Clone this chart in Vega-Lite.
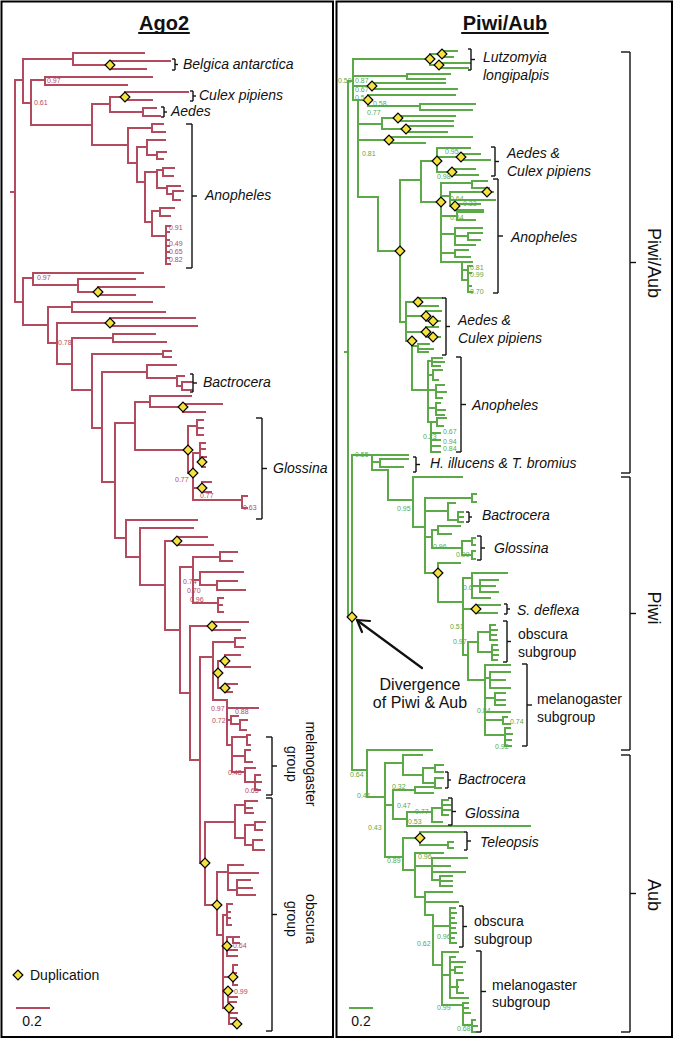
{
"$schema":"https://vega.github.io/schema/vega-lite/v6.json",
"width":674,"height":1039,"padding":0,
"autosize":{"type":"fit","contains":"padding"},
"background":"white",
"config":{"view":{"stroke":null},"text":{"font":"Liberation Sans"}},
"datasets":{
"fr":[{"x":1.5,"x2":333,"y":1.5,"y2":1037},{"x":336.5,"x2":672,"y":1.5,"y2":1037}],
"h":[
{"c":"A","y":192,"a":11,"b":15},{"c":"A","y":80,"a":15,"b":23},{"c":"A","y":59,"a":23,"b":73},{"c":"A","y":53,"a":73,"b":144},{"c":"A","y":65,"a":73,"b":110},{"c":"A","y":61,"a":110,"b":170},{"c":"A","y":69,"a":110,"b":146},{"c":"A","y":103,"a":23,"b":31},{"c":"A","y":80,"a":31,"b":45},{"c":"A","y":77,"a":45,"b":152},{"c":"A","y":85,"a":45,"b":127},{"c":"A","y":125,"a":31,"b":92},{"c":"A","y":104,"a":92,"b":110},{"c":"A","y":97,"a":110,"b":125},{"c":"A","y":92,"a":125,"b":188},{"c":"A","y":100,"a":125,"b":152},{"c":"A","y":112,"a":110,"b":143},{"c":"A","y":108,"a":143,"b":156},{"c":"A","y":116,"a":143,"b":160},{"c":"A","y":145,"a":92,"b":128},{"c":"A","y":128,"a":128,"b":152},{"c":"A","y":124,"a":152,"b":163},{"c":"A","y":132,"a":152,"b":165},{"c":"A","y":163,"a":128,"b":137},{"c":"A","y":147,"a":137,"b":147},{"c":"A","y":140,"a":147,"b":165},{"c":"A","y":155,"a":147,"b":157},{"c":"A","y":152,"a":157,"b":166},{"c":"A","y":159,"a":157,"b":163},{"c":"A","y":182,"a":137,"b":145},{"c":"A","y":172,"a":145,"b":157},{"c":"A","y":170,"a":157,"b":163},{"c":"A","y":168,"a":163,"b":174},{"c":"A","y":176,"a":163,"b":173},{"c":"A","y":188,"a":157,"b":167},{"c":"A","y":186,"a":167,"b":180},{"c":"A","y":194,"a":167,"b":173},{"c":"A","y":191,"a":173,"b":183},{"c":"A","y":200,"a":173,"b":180},{"c":"A","y":222,"a":145,"b":152},{"c":"A","y":211,"a":152,"b":160},{"c":"A","y":208,"a":160,"b":174},{"c":"A","y":216,"a":160,"b":170},{"c":"A","y":236,"a":152,"b":166},{"c":"A","y":226,"a":166,"b":170},{"c":"A","y":232,"a":166,"b":169},{"c":"A","y":240,"a":166,"b":169},{"c":"A","y":246,"a":166,"b":169},{"c":"A","y":252,"a":166,"b":169},{"c":"A","y":258,"a":166,"b":169},{"c":"A","y":264,"a":166,"b":170},
{"c":"A","y":302,"a":15,"b":23},{"c":"A","y":278,"a":23,"b":33},{"c":"A","y":273,"a":33,"b":143},{"c":"A","y":285,"a":33,"b":78},{"c":"A","y":279,"a":78,"b":135},{"c":"A","y":292,"a":78,"b":98},{"c":"A","y":287,"a":98,"b":164},{"c":"A","y":295,"a":98,"b":135},{"c":"A","y":325,"a":23,"b":48},{"c":"A","y":307,"a":48,"b":72},{"c":"A","y":302,"a":72,"b":152},{"c":"A","y":312,"a":72,"b":165},{"c":"A","y":343,"a":48,"b":57},{"c":"A","y":323,"a":57,"b":110},{"c":"A","y":318,"a":110,"b":195},{"c":"A","y":326,"a":110,"b":197},{"c":"A","y":364,"a":57,"b":72},{"c":"A","y":338,"a":72,"b":113},{"c":"A","y":334,"a":113,"b":155},{"c":"A","y":342,"a":113,"b":166},{"c":"A","y":390,"a":72,"b":92},{"c":"A","y":354,"a":92,"b":163},{"c":"A","y":351,"a":163,"b":171},{"c":"A","y":357,"a":163,"b":171},{"c":"A","y":428,"a":92,"b":102},{"c":"A","y":372,"a":102,"b":147},{"c":"A","y":365,"a":147,"b":176},{"c":"A","y":378,"a":147,"b":177},{"c":"A","y":376,"a":177,"b":184},{"c":"A","y":386,"a":177,"b":182},{"c":"A","y":382,"a":182,"b":192},{"c":"A","y":390,"a":182,"b":192},{"c":"A","y":482,"a":102,"b":115},{"c":"A","y":423,"a":115,"b":135},{"c":"A","y":402,"a":135,"b":150},{"c":"A","y":396,"a":150,"b":191},{"c":"A","y":407,"a":150,"b":183},{"c":"A","y":404,"a":183,"b":222},{"c":"A","y":412,"a":183,"b":205},{"c":"A","y":450,"a":135,"b":188},{"c":"A","y":426,"a":188,"b":197},{"c":"A","y":420,"a":197,"b":203},{"c":"A","y":428,"a":197,"b":203},{"c":"A","y":435,"a":197,"b":203},{"c":"A","y":473,"a":188,"b":193},{"c":"A","y":453,"a":193,"b":200},{"c":"A","y":443,"a":200,"b":205},{"c":"A","y":449,"a":200,"b":205},{"c":"A","y":462,"a":200,"b":202},{"c":"A","y":457,"a":202,"b":206},{"c":"A","y":467,"a":202,"b":205},{"c":"A","y":488,"a":193,"b":202},{"c":"A","y":482,"a":202,"b":211},{"c":"A","y":492,"a":202,"b":211},{"c":"A","y":500,"a":193,"b":242},{"c":"A","y":496,"a":242,"b":247},{"c":"A","y":508,"a":242,"b":247},
{"c":"A","y":538,"a":115,"b":126},{"c":"A","y":520,"a":126,"b":197},{"c":"A","y":557,"a":126,"b":140},{"c":"A","y":528,"a":140,"b":193},{"c":"A","y":585,"a":140,"b":165},{"c":"A","y":541,"a":165,"b":177},{"c":"A","y":537,"a":177,"b":207},{"c":"A","y":545,"a":177,"b":213},{"c":"A","y":630,"a":165,"b":180},{"c":"A","y":567,"a":180,"b":193},{"c":"A","y":557,"a":193,"b":220},{"c":"A","y":552,"a":220,"b":237},{"c":"A","y":561,"a":220,"b":232},{"c":"A","y":580,"a":193,"b":200},{"c":"A","y":572,"a":200,"b":243},{"c":"A","y":585,"a":200,"b":217},{"c":"A","y":581,"a":217,"b":237},{"c":"A","y":590,"a":217,"b":245},{"c":"A","y":603,"a":193,"b":218},{"c":"A","y":598,"a":218,"b":223},{"c":"A","y":605,"a":218,"b":222},{"c":"A","y":612,"a":218,"b":223},{"c":"A","y":693,"a":180,"b":190},{"c":"A","y":626,"a":190,"b":212},{"c":"A","y":622,"a":212,"b":248},{"c":"A","y":630,"a":212,"b":240},{"c":"A","y":760,"a":190,"b":200},{"c":"A","y":657,"a":200,"b":213},{"c":"A","y":642,"a":213,"b":235},{"c":"A","y":638,"a":235,"b":245},{"c":"A","y":647,"a":235,"b":243},{"c":"A","y":673,"a":213,"b":218},{"c":"A","y":661,"a":218,"b":225},{"c":"A","y":655,"a":225,"b":240},{"c":"A","y":667,"a":225,"b":250},{"c":"A","y":688,"a":218,"b":225},{"c":"A","y":684,"a":225,"b":237},{"c":"A","y":692,"a":225,"b":232},{"c":"A","y":700,"a":213,"b":227},{"c":"A","y":708,"a":227,"b":258},{"c":"A","y":720,"a":227,"b":231},{"c":"A","y":716,"a":231,"b":238},{"c":"A","y":724,"a":231,"b":240},{"c":"A","y":720,"a":240,"b":247},{"c":"A","y":730,"a":240,"b":246},{"c":"A","y":745,"a":227,"b":232},{"c":"A","y":737,"a":232,"b":247},{"c":"A","y":735,"a":247,"b":250},{"c":"A","y":745,"a":247,"b":250},{"c":"A","y":756,"a":232,"b":245},{"c":"A","y":750,"a":245,"b":250},{"c":"A","y":762,"a":245,"b":252},{"c":"A","y":772,"a":232,"b":245},{"c":"A","y":768,"a":245,"b":255},{"c":"A","y":782,"a":245,"b":261},{"c":"A","y":775,"a":255,"b":260},{"c":"A","y":790,"a":255,"b":260},
{"c":"A","y":863,"a":200,"b":205},{"c":"A","y":822,"a":205,"b":235},{"c":"A","y":805,"a":235,"b":245},{"c":"A","y":801,"a":245,"b":257},{"c":"A","y":808,"a":245,"b":252},{"c":"A","y":813,"a":245,"b":253},{"c":"A","y":838,"a":235,"b":245},{"c":"A","y":825,"a":245,"b":255},{"c":"A","y":822,"a":255,"b":265},{"c":"A","y":830,"a":255,"b":262},{"c":"A","y":845,"a":245,"b":253},{"c":"A","y":840,"a":253,"b":262},{"c":"A","y":850,"a":253,"b":264},{"c":"A","y":905,"a":205,"b":217},{"c":"A","y":872,"a":217,"b":228},{"c":"A","y":865,"a":228,"b":243},{"c":"A","y":873,"a":228,"b":258},{"c":"A","y":890,"a":228,"b":237},{"c":"A","y":880,"a":237,"b":250},{"c":"A","y":888,"a":237,"b":252},{"c":"A","y":895,"a":237,"b":255},{"c":"A","y":935,"a":217,"b":223},{"c":"A","y":915,"a":223,"b":227},{"c":"A","y":904,"a":227,"b":232},{"c":"A","y":912,"a":227,"b":230},{"c":"A","y":918,"a":227,"b":230},{"c":"A","y":925,"a":227,"b":231},{"c":"A","y":946,"a":223,"b":227},{"c":"A","y":937,"a":227,"b":239},{"c":"A","y":943,"a":233,"b":239},{"c":"A","y":950,"a":227,"b":237},{"c":"A","y":956,"a":227,"b":237},{"c":"A","y":977,"a":223,"b":233},{"c":"A","y":965,"a":233,"b":237},{"c":"A","y":973,"a":233,"b":236},{"c":"A","y":985,"a":233,"b":237},{"c":"A","y":991,"a":223,"b":228},{"c":"A","y":997,"a":228,"b":237},{"c":"A","y":1002,"a":228,"b":236},{"c":"A","y":1008,"a":223,"b":229},{"c":"A","y":1013,"a":229,"b":237},{"c":"A","y":1018,"a":229,"b":236},{"c":"A","y":1024,"a":229,"b":237},
{"c":"A","y":1008,"a":17,"b":49},{"c":"P","y":1008,"a":350,"b":372},
{"c":"P","y":352,"a":345,"b":348},{"c":"P","y":81,"a":348,"b":353},{"c":"P","y":59,"a":353,"b":430},{"c":"P","y":54,"a":430,"b":442},{"c":"P","y":51,"a":442,"b":457},{"c":"P","y":57,"a":442,"b":453},{"c":"P","y":65,"a":430,"b":439},{"c":"P","y":63,"a":439,"b":470},{"c":"P","y":68,"a":439,"b":468},{"c":"P","y":76,"a":353,"b":407},{"c":"P","y":74,"a":407,"b":450},{"c":"P","y":79,"a":407,"b":445},{"c":"P","y":86,"a":353,"b":372},{"c":"P","y":83,"a":372,"b":445},{"c":"P","y":89,"a":372,"b":457},{"c":"P","y":100,"a":353,"b":368},{"c":"P","y":95,"a":368,"b":455},{"c":"P","y":106,"a":368,"b":420},{"c":"P","y":104,"a":420,"b":475},{"c":"P","y":110,"a":420,"b":472},{"c":"P","y":124,"a":358,"b":382},{"c":"P","y":118,"a":382,"b":398},{"c":"P","y":116,"a":398,"b":455},{"c":"P","y":121,"a":398,"b":453},{"c":"P","y":129,"a":382,"b":406},{"c":"P","y":126,"a":406,"b":453},{"c":"P","y":132,"a":406,"b":447},{"c":"P","y":140,"a":358,"b":389},{"c":"P","y":137,"a":389,"b":472},{"c":"P","y":143,"a":389,"b":425},{"c":"P","y":197,"a":358,"b":378},{"c":"P","y":251,"a":378,"b":400},{"c":"P","y":180,"a":400,"b":421},{"c":"P","y":161,"a":421,"b":437},{"c":"P","y":148,"a":437,"b":470},{"c":"P","y":157,"a":437,"b":461},{"c":"P","y":154,"a":461,"b":480},{"c":"P","y":160,"a":461,"b":490},{"c":"P","y":172,"a":437,"b":452},{"c":"P","y":169,"a":452,"b":475},{"c":"P","y":175,"a":452,"b":478},{"c":"P","y":202,"a":421,"b":441},{"c":"P","y":183,"a":441,"b":472},{"c":"P","y":181,"a":472,"b":487},{"c":"P","y":188,"a":472,"b":489},{"c":"P","y":196,"a":441,"b":450},{"c":"P","y":192,"a":450,"b":493},{"c":"P","y":200,"a":450,"b":495},{"c":"P","y":206,"a":450,"b":455},{"c":"P","y":204,"a":455,"b":480},{"c":"P","y":210,"a":455,"b":483},{"c":"P","y":216,"a":441,"b":457},{"c":"P","y":212,"a":457,"b":483},{"c":"P","y":220,"a":457,"b":475},{"c":"P","y":234,"a":441,"b":455},{"c":"P","y":228,"a":455,"b":482},{"c":"P","y":236,"a":455,"b":468},{"c":"P","y":233,"a":468,"b":482},{"c":"P","y":240,"a":468,"b":480},{"c":"P","y":245,"a":455,"b":475},{"c":"P","y":253,"a":441,"b":455},{"c":"P","y":250,"a":455,"b":468},{"c":"P","y":257,"a":455,"b":470},{"c":"P","y":262,"a":441,"b":472},{"c":"P","y":270,"a":462,"b":468},{"c":"P","y":266,"a":468,"b":472},{"c":"P","y":273,"a":468,"b":471},{"c":"P","y":280,"a":462,"b":466},{"c":"P","y":286,"a":468,"b":471},{"c":"P","y":292,"a":468,"b":472},
{"c":"P","y":322,"a":400,"b":406},{"c":"P","y":302,"a":406,"b":418},{"c":"P","y":298,"a":418,"b":442},{"c":"P","y":306,"a":418,"b":438},{"c":"P","y":316,"a":406,"b":426},{"c":"P","y":311,"a":426,"b":441},{"c":"P","y":321,"a":426,"b":440},{"c":"P","y":332,"a":406,"b":426},{"c":"P","y":327,"a":426,"b":438},{"c":"P","y":337,"a":426,"b":440},{"c":"P","y":341,"a":406,"b":412},{"c":"P","y":346,"a":412,"b":418},{"c":"P","y":344,"a":418,"b":429},{"c":"P","y":349,"a":418,"b":433},{"c":"P","y":352,"a":418,"b":428},{"c":"P","y":390,"a":412,"b":428},{"c":"P","y":361,"a":428,"b":432},{"c":"P","y":358,"a":432,"b":442},{"c":"P","y":362,"a":432,"b":444},{"c":"P","y":366,"a":432,"b":440},{"c":"P","y":375,"a":428,"b":433},{"c":"P","y":370,"a":433,"b":442},{"c":"P","y":380,"a":433,"b":438},{"c":"P","y":390,"a":428,"b":436},{"c":"P","y":385,"a":436,"b":444},{"c":"P","y":392,"a":436,"b":446},{"c":"P","y":398,"a":436,"b":442},{"c":"P","y":408,"a":428,"b":436},{"c":"P","y":403,"a":436,"b":440},{"c":"P","y":410,"a":436,"b":445},{"c":"P","y":415,"a":436,"b":444},{"c":"P","y":422,"a":428,"b":437},{"c":"P","y":418,"a":437,"b":446},{"c":"P","y":426,"a":437,"b":443},{"c":"P","y":433,"a":431,"b":440},{"c":"P","y":440,"a":431,"b":440},{"c":"P","y":446,"a":431,"b":440},{"c":"P","y":452,"a":431,"b":440},
{"c":"P","y":617,"a":348,"b":352},{"c":"P","y":455,"a":352,"b":408},{"c":"P","y":462,"a":372,"b":380},{"c":"P","y":459,"a":380,"b":408},{"c":"P","y":467,"a":380,"b":403},{"c":"P","y":470,"a":372,"b":388},{"c":"P","y":500,"a":388,"b":413},{"c":"P","y":477,"a":413,"b":462},{"c":"P","y":527,"a":413,"b":425},{"c":"P","y":498,"a":425,"b":472},{"c":"P","y":494,"a":472,"b":476},{"c":"P","y":502,"a":472,"b":476},{"c":"P","y":511,"a":425,"b":448},{"c":"P","y":503,"a":448,"b":455},{"c":"P","y":520,"a":448,"b":458},{"c":"P","y":512,"a":458,"b":463},{"c":"P","y":517,"a":458,"b":463},{"c":"P","y":522,"a":458,"b":463},{"c":"P","y":537,"a":425,"b":432},{"c":"P","y":530,"a":432,"b":438},{"c":"P","y":526,"a":438,"b":460},{"c":"P","y":534,"a":438,"b":451},{"c":"P","y":548,"a":432,"b":462},{"c":"P","y":541,"a":462,"b":472},{"c":"P","y":538,"a":472,"b":475},{"c":"P","y":545,"a":472,"b":475},{"c":"P","y":555,"a":462,"b":472},{"c":"P","y":551,"a":472,"b":475},{"c":"P","y":559,"a":472,"b":475},{"c":"P","y":573,"a":425,"b":438},{"c":"P","y":563,"a":438,"b":460},{"c":"P","y":602,"a":438,"b":463},{"c":"P","y":578,"a":463,"b":472},{"c":"P","y":573,"a":472,"b":507},{"c":"P","y":586,"a":472,"b":495},{"c":"P","y":580,"a":480,"b":498},{"c":"P","y":592,"a":480,"b":498},{"c":"P","y":598,"a":472,"b":490},{"c":"P","y":609,"a":463,"b":476},{"c":"P","y":605,"a":476,"b":500},{"c":"P","y":613,"a":476,"b":497},{"c":"P","y":655,"a":463,"b":468},{"c":"P","y":642,"a":468,"b":478},{"c":"P","y":632,"a":478,"b":490},{"c":"P","y":625,"a":490,"b":495},{"c":"P","y":630,"a":490,"b":497},{"c":"P","y":635,"a":490,"b":496},{"c":"P","y":640,"a":490,"b":497},{"c":"P","y":652,"a":478,"b":492},{"c":"P","y":645,"a":492,"b":497},{"c":"P","y":650,"a":492,"b":498},{"c":"P","y":655,"a":492,"b":498},{"c":"P","y":660,"a":492,"b":497},{"c":"P","y":680,"a":468,"b":485},{"c":"P","y":665,"a":485,"b":510},{"c":"P","y":678,"a":485,"b":490},{"c":"P","y":672,"a":490,"b":510},{"c":"P","y":680,"a":490,"b":505},{"c":"P","y":688,"a":490,"b":510},{"c":"P","y":698,"a":485,"b":495},{"c":"P","y":693,"a":495,"b":505},{"c":"P","y":700,"a":495,"b":505},{"c":"P","y":705,"a":495,"b":505},{"c":"P","y":712,"a":485,"b":510},{"c":"P","y":720,"a":485,"b":503},{"c":"P","y":717,"a":503,"b":507},{"c":"P","y":724,"a":503,"b":510},{"c":"P","y":735,"a":485,"b":505},{"c":"P","y":728,"a":505,"b":510},{"c":"P","y":734,"a":505,"b":512},{"c":"P","y":740,"a":505,"b":511},{"c":"P","y":746,"a":505,"b":511},
{"c":"P","y":770,"a":352,"b":367},{"c":"P","y":750,"a":367,"b":432},{"c":"P","y":797,"a":367,"b":385},{"c":"P","y":763,"a":385,"b":403},{"c":"P","y":755,"a":403,"b":422},{"c":"P","y":775,"a":403,"b":423},{"c":"P","y":768,"a":423,"b":435},{"c":"P","y":765,"a":435,"b":443},{"c":"P","y":772,"a":435,"b":443},{"c":"P","y":783,"a":423,"b":435},{"c":"P","y":778,"a":435,"b":443},{"c":"P","y":788,"a":435,"b":441},{"c":"P","y":805,"a":385,"b":393},{"c":"P","y":790,"a":393,"b":415},{"c":"P","y":787,"a":415,"b":435},{"c":"P","y":793,"a":415,"b":433},{"c":"P","y":819,"a":393,"b":407},{"c":"P","y":812,"a":407,"b":432},{"c":"P","y":808,"a":432,"b":442},{"c":"P","y":800,"a":442,"b":448},{"c":"P","y":805,"a":442,"b":450},{"c":"P","y":810,"a":442,"b":450},{"c":"P","y":815,"a":442,"b":448},{"c":"P","y":822,"a":432,"b":442},{"c":"P","y":826,"a":407,"b":530},{"c":"P","y":857,"a":385,"b":403},{"c":"P","y":838,"a":403,"b":420},{"c":"P","y":832,"a":420,"b":463},{"c":"P","y":845,"a":420,"b":448},{"c":"P","y":842,"a":448,"b":453},{"c":"P","y":848,"a":448,"b":453},{"c":"P","y":870,"a":403,"b":415},{"c":"P","y":853,"a":415,"b":443},{"c":"P","y":866,"a":415,"b":450},{"c":"P","y":858,"a":432,"b":467},{"c":"P","y":872,"a":432,"b":465},{"c":"P","y":880,"a":432,"b":440},{"c":"P","y":876,"a":440,"b":452},{"c":"P","y":881,"a":440,"b":452},{"c":"P","y":886,"a":440,"b":452},{"c":"P","y":897,"a":415,"b":425},{"c":"P","y":892,"a":425,"b":452},{"c":"P","y":902,"a":425,"b":458},{"c":"P","y":915,"a":425,"b":433},{"c":"P","y":926,"a":433,"b":450},{"c":"P","y":908,"a":450,"b":455},{"c":"P","y":913,"a":450,"b":456},{"c":"P","y":918,"a":450,"b":454},{"c":"P","y":923,"a":450,"b":456},{"c":"P","y":928,"a":450,"b":455},{"c":"P","y":933,"a":450,"b":456},{"c":"P","y":938,"a":450,"b":454},{"c":"P","y":943,"a":450,"b":456},{"c":"P","y":965,"a":433,"b":442},{"c":"P","y":952,"a":442,"b":458},{"c":"P","y":975,"a":442,"b":450},{"c":"P","y":957,"a":450,"b":455},{"c":"P","y":962,"a":450,"b":465},{"c":"P","y":970,"a":450,"b":455},{"c":"P","y":967,"a":455,"b":462},{"c":"P","y":973,"a":455,"b":462},{"c":"P","y":980,"a":457,"b":463},{"c":"P","y":987,"a":450,"b":458},{"c":"P","y":993,"a":457,"b":463},{"c":"P","y":998,"a":450,"b":468},{"c":"P","y":1005,"a":442,"b":463},{"c":"P","y":1003,"a":463,"b":468},{"c":"P","y":1008,"a":463,"b":468},{"c":"P","y":1013,"a":463,"b":470},{"c":"P","y":1025,"a":463,"b":472},{"c":"P","y":1020,"a":472,"b":475},{"c":"P","y":1026,"a":472,"b":477},{"c":"P","y":1032,"a":472,"b":475}
],
"v":[
{"c":"A","x":15,"a":80,"b":302},{"c":"A","x":23,"a":59,"b":103},{"c":"A","x":73,"a":53,"b":65},{"c":"A","x":110,"a":61,"b":69},{"c":"A","x":31,"a":80,"b":125},{"c":"A","x":45,"a":77,"b":85},{"c":"A","x":92,"a":104,"b":145},{"c":"A","x":110,"a":97,"b":112},{"c":"A","x":125,"a":92,"b":100},{"c":"A","x":143,"a":108,"b":116},{"c":"A","x":128,"a":128,"b":163},{"c":"A","x":152,"a":124,"b":132},{"c":"A","x":137,"a":147,"b":182},{"c":"A","x":147,"a":140,"b":155},{"c":"A","x":157,"a":152,"b":159},{"c":"A","x":145,"a":172,"b":222},{"c":"A","x":157,"a":170,"b":188},{"c":"A","x":163,"a":168,"b":176},{"c":"A","x":167,"a":186,"b":194},{"c":"A","x":173,"a":191,"b":200},{"c":"A","x":152,"a":211,"b":236},{"c":"A","x":160,"a":208,"b":216},{"c":"A","x":166,"a":226,"b":264},
{"c":"A","x":23,"a":278,"b":325},{"c":"A","x":33,"a":273,"b":285},{"c":"A","x":78,"a":279,"b":292},{"c":"A","x":98,"a":287,"b":295},{"c":"A","x":48,"a":307,"b":343},{"c":"A","x":72,"a":302,"b":312},{"c":"A","x":57,"a":323,"b":364},{"c":"A","x":110,"a":318,"b":326},{"c":"A","x":72,"a":338,"b":390},{"c":"A","x":113,"a":334,"b":342},{"c":"A","x":92,"a":354,"b":428},{"c":"A","x":163,"a":351,"b":357},{"c":"A","x":102,"a":372,"b":482},{"c":"A","x":147,"a":365,"b":378},{"c":"A","x":177,"a":376,"b":386},{"c":"A","x":182,"a":382,"b":390},{"c":"A","x":115,"a":423,"b":538},{"c":"A","x":135,"a":402,"b":450},{"c":"A","x":150,"a":396,"b":407},{"c":"A","x":183,"a":404,"b":412},{"c":"A","x":188,"a":426,"b":473},{"c":"A","x":197,"a":420,"b":435},{"c":"A","x":193,"a":453,"b":500},{"c":"A","x":200,"a":443,"b":462},{"c":"A","x":202,"a":457,"b":467},{"c":"A","x":202,"a":482,"b":492},{"c":"A","x":242,"a":496,"b":508},
{"c":"A","x":126,"a":520,"b":557},{"c":"A","x":140,"a":528,"b":585},{"c":"A","x":165,"a":541,"b":630},{"c":"A","x":177,"a":537,"b":545},{"c":"A","x":180,"a":567,"b":693},{"c":"A","x":193,"a":557,"b":603},{"c":"A","x":220,"a":552,"b":561},{"c":"A","x":200,"a":572,"b":585},{"c":"A","x":217,"a":581,"b":590},{"c":"A","x":218,"a":598,"b":612},{"c":"A","x":190,"a":626,"b":760},{"c":"A","x":212,"a":622,"b":630},{"c":"A","x":200,"a":657,"b":863},{"c":"A","x":213,"a":642,"b":700},{"c":"A","x":235,"a":638,"b":647},{"c":"A","x":218,"a":661,"b":688},{"c":"A","x":225,"a":655,"b":667},{"c":"A","x":225,"a":684,"b":692},{"c":"A","x":227,"a":700,"b":745},{"c":"A","x":231,"a":716,"b":724},{"c":"A","x":240,"a":720,"b":730},{"c":"A","x":232,"a":737,"b":772},{"c":"A","x":247,"a":735,"b":745},{"c":"A","x":245,"a":750,"b":762},{"c":"A","x":245,"a":768,"b":782},{"c":"A","x":255,"a":775,"b":790},
{"c":"A","x":205,"a":822,"b":905},{"c":"A","x":235,"a":805,"b":838},{"c":"A","x":245,"a":801,"b":813},{"c":"A","x":245,"a":825,"b":845},{"c":"A","x":255,"a":822,"b":830},{"c":"A","x":253,"a":840,"b":850},{"c":"A","x":217,"a":872,"b":935},{"c":"A","x":228,"a":865,"b":890},{"c":"A","x":237,"a":880,"b":895},{"c":"A","x":223,"a":915,"b":1008},{"c":"A","x":227,"a":904,"b":925},{"c":"A","x":227,"a":937,"b":956},{"c":"A","x":233,"a":937,"b":943},{"c":"A","x":233,"a":965,"b":985},{"c":"A","x":228,"a":991,"b":1002},{"c":"A","x":229,"a":1008,"b":1024},
{"c":"P","x":348,"a":81,"b":617},{"c":"P","x":353,"a":59,"b":100},{"c":"P","x":430,"a":54,"b":65},{"c":"P","x":442,"a":51,"b":57},{"c":"P","x":439,"a":63,"b":68},{"c":"P","x":407,"a":74,"b":79},{"c":"P","x":372,"a":83,"b":89},{"c":"P","x":368,"a":95,"b":106},{"c":"P","x":420,"a":104,"b":110},{"c":"P","x":358,"a":100,"b":197},{"c":"P","x":382,"a":118,"b":129},{"c":"P","x":398,"a":116,"b":121},{"c":"P","x":406,"a":126,"b":132},{"c":"P","x":389,"a":137,"b":143},{"c":"P","x":378,"a":197,"b":251},{"c":"P","x":400,"a":180,"b":322},{"c":"P","x":421,"a":161,"b":202},{"c":"P","x":437,"a":148,"b":172},{"c":"P","x":461,"a":154,"b":160},{"c":"P","x":452,"a":169,"b":175},{"c":"P","x":441,"a":183,"b":262},{"c":"P","x":472,"a":181,"b":188},{"c":"P","x":450,"a":192,"b":206},{"c":"P","x":455,"a":204,"b":210},{"c":"P","x":457,"a":212,"b":220},{"c":"P","x":455,"a":228,"b":245},{"c":"P","x":468,"a":233,"b":240},{"c":"P","x":455,"a":250,"b":257},{"c":"P","x":462,"a":262,"b":280},{"c":"P","x":468,"a":266,"b":292},
{"c":"P","x":406,"a":302,"b":341},{"c":"P","x":418,"a":298,"b":306},{"c":"P","x":426,"a":311,"b":321},{"c":"P","x":426,"a":327,"b":337},{"c":"P","x":412,"a":341,"b":390},{"c":"P","x":418,"a":344,"b":352},{"c":"P","x":428,"a":361,"b":422},{"c":"P","x":432,"a":358,"b":366},{"c":"P","x":433,"a":370,"b":380},{"c":"P","x":436,"a":385,"b":398},{"c":"P","x":436,"a":403,"b":415},{"c":"P","x":437,"a":418,"b":426},{"c":"P","x":431,"a":422,"b":452},
{"c":"P","x":352,"a":455,"b":770},{"c":"P","x":372,"a":455,"b":470},{"c":"P","x":380,"a":459,"b":467},{"c":"P","x":388,"a":470,"b":500},{"c":"P","x":413,"a":477,"b":527},{"c":"P","x":425,"a":498,"b":573},{"c":"P","x":472,"a":494,"b":502},{"c":"P","x":448,"a":503,"b":520},{"c":"P","x":458,"a":512,"b":522},{"c":"P","x":432,"a":530,"b":548},{"c":"P","x":438,"a":526,"b":534},{"c":"P","x":462,"a":541,"b":555},{"c":"P","x":472,"a":538,"b":545},{"c":"P","x":472,"a":551,"b":559},{"c":"P","x":438,"a":563,"b":602},{"c":"P","x":463,"a":578,"b":655},{"c":"P","x":472,"a":573,"b":598},{"c":"P","x":480,"a":580,"b":592},{"c":"P","x":476,"a":605,"b":613},{"c":"P","x":468,"a":642,"b":680},{"c":"P","x":478,"a":632,"b":652},{"c":"P","x":490,"a":625,"b":640},{"c":"P","x":492,"a":645,"b":660},{"c":"P","x":485,"a":665,"b":735},{"c":"P","x":490,"a":672,"b":688},{"c":"P","x":495,"a":693,"b":705},{"c":"P","x":503,"a":717,"b":724},{"c":"P","x":505,"a":728,"b":746},
{"c":"P","x":367,"a":750,"b":797},{"c":"P","x":385,"a":763,"b":857},{"c":"P","x":403,"a":755,"b":775},{"c":"P","x":423,"a":768,"b":783},{"c":"P","x":435,"a":765,"b":772},{"c":"P","x":435,"a":778,"b":788},{"c":"P","x":393,"a":790,"b":819},{"c":"P","x":415,"a":787,"b":793},{"c":"P","x":407,"a":812,"b":826},{"c":"P","x":432,"a":808,"b":822},{"c":"P","x":442,"a":800,"b":815},{"c":"P","x":403,"a":838,"b":870},{"c":"P","x":420,"a":832,"b":845},{"c":"P","x":448,"a":842,"b":848},{"c":"P","x":415,"a":853,"b":897},{"c":"P","x":432,"a":858,"b":880},{"c":"P","x":440,"a":876,"b":886},{"c":"P","x":425,"a":892,"b":915},{"c":"P","x":433,"a":915,"b":965},{"c":"P","x":450,"a":908,"b":943},{"c":"P","x":442,"a":952,"b":1005},{"c":"P","x":450,"a":957,"b":998},{"c":"P","x":455,"a":967,"b":973},{"c":"P","x":457,"a":980,"b":993},{"c":"P","x":463,"a":1003,"b":1025},{"c":"P","x":472,"a":1020,"b":1032}
],
"bv":[
{"x":175,"a":59,"b":70},{"x":193,"a":91,"b":101},{"x":164,"a":107,"b":117},{"x":192,"a":124,"b":268},{"x":193,"a":374,"b":392},{"x":262,"a":418,"b":519},{"x":272,"a":737,"b":795},{"x":272,"a":798,"b":1031},
{"x":471,"a":49,"b":70},{"x":495,"a":147,"b":176},{"x":498,"a":179,"b":293},{"x":446,"a":298,"b":355},{"x":461,"a":357,"b":452},{"x":416,"a":457,"b":472},{"x":469,"a":512,"b":522},{"x":481,"a":536,"b":560},{"x":507,"a":604,"b":614},{"x":507,"a":621,"b":662},{"x":527,"a":664,"b":746},{"x":448,"a":772,"b":788},{"x":452,"a":798,"b":825},{"x":467,"a":832,"b":850},{"x":463,"a":906,"b":947},{"x":481,"a":951,"b":1032},{"x":630,"a":52,"b":473},{"x":630,"a":477,"b":750},{"x":630,"a":755,"b":1032}
],
"bh":[
{"y":59,"a":172,"b":175},{"y":70,"a":172,"b":175},{"y":64.5,"a":175,"b":178},
{"y":91,"a":190,"b":193},{"y":101,"a":190,"b":193},{"y":96,"a":193,"b":196},
{"y":107,"a":161,"b":164},{"y":117,"a":161,"b":164},{"y":112,"a":164,"b":167},
{"y":124,"a":186,"b":192},{"y":268,"a":186,"b":192},{"y":196,"a":192,"b":197},
{"y":374,"a":190,"b":193},{"y":392,"a":190,"b":193},{"y":383,"a":193,"b":197},
{"y":418,"a":256,"b":262},{"y":519,"a":256,"b":262},{"y":468.5,"a":262,"b":267},
{"y":737,"a":266,"b":272},{"y":795,"a":266,"b":272},{"y":766,"a":272,"b":277},
{"y":798,"a":266,"b":272},{"y":1031,"a":266,"b":272},{"y":914.5,"a":272,"b":277},
{"y":49,"a":468,"b":471},{"y":70,"a":468,"b":471},{"y":59.5,"a":471,"b":475},
{"y":147,"a":491,"b":495},{"y":176,"a":491,"b":495},{"y":161.5,"a":495,"b":499},
{"y":179,"a":493,"b":498},{"y":293,"a":493,"b":498},{"y":236,"a":498,"b":503},
{"y":298,"a":442,"b":446},{"y":355,"a":442,"b":446},{"y":326.5,"a":446,"b":450},
{"y":357,"a":456,"b":461},{"y":452,"a":456,"b":461},{"y":404.5,"a":461,"b":466},
{"y":457,"a":413,"b":416},{"y":472,"a":413,"b":416},{"y":464.5,"a":416,"b":420},
{"y":512,"a":466,"b":469},{"y":522,"a":466,"b":469},{"y":517,"a":469,"b":472},
{"y":536,"a":477,"b":481},{"y":560,"a":477,"b":481},{"y":548,"a":481,"b":485},
{"y":604,"a":504,"b":507},{"y":614,"a":504,"b":507},{"y":609,"a":507,"b":510},
{"y":621,"a":503,"b":507},{"y":662,"a":503,"b":507},{"y":641.5,"a":507,"b":511},
{"y":664,"a":522,"b":527},{"y":746,"a":522,"b":527},{"y":705,"a":527,"b":532},
{"y":772,"a":445,"b":448},{"y":788,"a":445,"b":448},{"y":780,"a":448,"b":451},
{"y":798,"a":448,"b":452},{"y":825,"a":448,"b":452},{"y":811.5,"a":452,"b":456},
{"y":832,"a":464,"b":467},{"y":850,"a":464,"b":467},{"y":841,"a":467,"b":471},
{"y":906,"a":459,"b":463},{"y":947,"a":459,"b":463},{"y":926.5,"a":463,"b":467},
{"y":951,"a":476,"b":481},{"y":1032,"a":476,"b":481},{"y":991.5,"a":481,"b":486},
{"y":52,"a":621,"b":630},{"y":473,"a":621,"b":630},{"y":262.5,"a":630,"b":636},
{"y":477,"a":621,"b":630},{"y":750,"a":621,"b":630},{"y":613.5,"a":630,"b":636},
{"y":755,"a":621,"b":630},{"y":1032,"a":621,"b":630},{"y":893.5,"a":630,"b":636}
],
"dg":[
{"x":139,"y":33,"x2":189,"y2":33},{"x":462,"y":33,"x2":548,"y2":33},
{"x":422,"y":668,"x2":358,"y2":621},{"x":357,"y":620,"x2":362,"y2":632},{"x":357,"y":620,"x2":370,"y2":621}
],
"dm":[
{"x":110,"y":65},{"x":125,"y":97},{"x":98,"y":292},{"x":110,"y":323},{"x":183,"y":407},{"x":188,"y":450},{"x":202,"y":462},{"x":193,"y":473},{"x":202,"y":488},{"x":177,"y":541},{"x":212,"y":626},{"x":225,"y":661},{"x":218,"y":673},{"x":225,"y":688},{"x":205,"y":863},{"x":217,"y":905},{"x":227,"y":946},{"x":233,"y":977},{"x":228,"y":991},{"x":229,"y":1008},{"x":237,"y":1024},{"x":18,"y":975},
{"x":430,"y":59},{"x":442,"y":54},{"x":439,"y":65},{"x":372,"y":86},{"x":368,"y":100},{"x":398,"y":118},{"x":406,"y":129},{"x":389,"y":140},{"x":400,"y":251},{"x":437,"y":161},{"x":461,"y":157},{"x":452,"y":172},{"x":441,"y":202},{"x":487,"y":192},{"x":455,"y":206},{"x":418,"y":302},{"x":426,"y":316},{"x":433,"y":321},{"x":426,"y":332},{"x":433,"y":337},{"x":412,"y":341},{"x":352,"y":617},{"x":438,"y":573},{"x":476,"y":609},{"x":420,"y":838}
],
"bs":[
{"c":"A","x":47,"y":81,"t":"0.97"},{"c":"A","x":34,"y":103,"t":"0.61"},{"c":"A","x":169,"y":228,"t":"0.91"},{"c":"A","x":169,"y":244,"t":"0.49"},{"c":"A","x":169,"y":252,"t":"0.65"},{"c":"A","x":169,"y":260,"t":"0.82"},{"c":"A","x":37,"y":278,"t":"0.97"},{"c":"A","x":58,"y":343,"t":"0.78"},{"c":"A","x":175,"y":480,"t":"0.77"},{"c":"A","x":200,"y":496,"t":"0.77"},{"c":"A","x":243,"y":508,"t":"0.63"},{"c":"A","x":183,"y":582,"t":"0.74"},{"c":"A","x":187,"y":591,"t":"0.70"},{"c":"A","x":190,"y":600,"t":"0.96"},{"c":"A","x":211,"y":709,"t":"0.97"},{"c":"A","x":235,"y":712,"t":"0.88"},{"c":"A","x":212,"y":721,"t":"0.72"},{"c":"A","x":228,"y":773,"t":"0.48"},{"c":"A","x":245,"y":791,"t":"0.65"},{"c":"A","x":233,"y":946,"t":"0.64"},{"c":"A","x":234,"y":992,"t":"0.99"},
{"c":"P","x":338,"y":81,"t":"0.50"},{"c":"P","x":355,"y":81,"t":"0.87"},{"c":"P","x":355,"y":90,"t":"0.67"},{"c":"P","x":355,"y":98,"t":"0.5"},{"c":"P","x":373,"y":104,"t":"0.58"},{"c":"P","x":367,"y":113,"t":"0.77"},{"c":"P","x":362,"y":154,"t":"0.81"},{"c":"P","x":445,"y":152,"t":"0.95"},{"c":"P","x":437,"y":177,"t":"0.98"},{"c":"P","x":450,"y":199,"t":"0.64"},{"c":"P","x":463,"y":204,"t":"0.33"},{"c":"P","x":450,"y":218,"t":"0.64"},{"c":"P","x":470,"y":268,"t":"0.81"},{"c":"P","x":470,"y":275,"t":"0.99"},{"c":"P","x":470,"y":292,"t":"0.70"},{"c":"P","x":443,"y":432,"t":"0.67"},{"c":"P","x":423,"y":437,"t":"0.23"},{"c":"P","x":443,"y":441.5,"t":"0.94"},{"c":"P","x":443,"y":448.5,"t":"0.84"},{"c":"P","x":355,"y":455,"t":"0.55"},{"c":"P","x":397,"y":509,"t":"0.95"},{"c":"P","x":433,"y":547,"t":"0.96"},{"c":"P","x":456,"y":555,"t":"0.99"},{"c":"P","x":463,"y":588,"t":"0.6"},{"c":"P","x":450,"y":627,"t":"0.51"},{"c":"P","x":453,"y":642,"t":"0.97"},{"c":"P","x":477,"y":711,"t":"0.84"},{"c":"P","x":510,"y":722,"t":"0.74"},{"c":"P","x":495,"y":747,"t":"0.92"},{"c":"P","x":350,"y":775,"t":"0.64"},{"c":"P","x":357,"y":796,"t":"0.41"},{"c":"P","x":392,"y":787,"t":"0.32"},{"c":"P","x":397,"y":806,"t":"0.47"},{"c":"P","x":415,"y":812,"t":"0.77"},{"c":"P","x":408,"y":822,"t":"0.53"},{"c":"P","x":368,"y":828,"t":"0.43"},{"c":"P","x":387,"y":861,"t":"0.89"},{"c":"P","x":418,"y":857,"t":"0.96"},{"c":"P","x":437,"y":937,"t":"0.96"},{"c":"P","x":417,"y":944,"t":"0.62"},{"c":"P","x":437,"y":1008,"t":"0.99"},{"c":"P","x":457,"y":1029,"t":"0.68"}
],
"it":[
{"x":183,"y":65,"t":"Belgica antarctica"},{"x":199,"y":96,"t":"Culex pipiens"},{"x":171,"y":112,"t":"Aedes"},{"x":205,"y":196,"t":"Anopheles"},{"x":203,"y":383,"t":"Bactrocera"},{"x":273,"y":469,"t":"Glossina"},
{"x":483,"y":58,"t":"Lutzomyia"},{"x":483,"y":76,"t":"longipalpis"},{"x":507,"y":154,"t":"Aedes &"},{"x":507,"y":172,"t":"Culex pipiens"},{"x":511,"y":238,"t":"Anopheles"},{"x":458,"y":321,"t":"Aedes &"},{"x":458,"y":339,"t":"Culex pipiens"},{"x":472,"y":406,"t":"Anopheles"},{"x":430,"y":464,"t":"H. illucens & T. bromius"},{"x":482,"y":516,"t":"Bactrocera"},{"x":494,"y":549,"t":"Glossina"},{"x":517,"y":611,"t":"S. deflexa"},{"x":458,"y":780,"t":"Bactrocera"},{"x":465,"y":814,"t":"Glossina"},{"x":480,"y":843,"t":"Teleopsis"}
],
"nl":[
{"x":30,"y":976,"t":"Duplication"},{"x":518,"y":635,"t":"obscura"},{"x":518,"y":653,"t":"subgroup"},{"x":537,"y":700,"t":"melanogaster"},{"x":537,"y":718,"t":"subgroup"},{"x":474,"y":922,"t":"obscura"},{"x":474,"y":940,"t":"subgroup"},{"x":492,"y":986,"t":"melanogaster"},{"x":492,"y":1003,"t":"subgroup"}
],
"c16":[{"x":420,"y":685,"t":"Divergence"},{"x":420,"y":703,"t":"of Piwi & Aub"}],
"c14":[{"x":32,"y":1022,"t":"0.2"},{"x":361,"y":1022,"t":"0.2"}],
"r14":[{"x":310,"y":764,"t":"melanogaster"},{"x":291,"y":764,"t":"group"},{"x":310,"y":919,"t":"obscura"},{"x":291,"y":919,"t":"group"}],
"r18":[{"x":653,"y":263,"t":"Piwi/Aub"},{"x":653,"y":608,"t":"Piwi"},{"x":653,"y":895,"t":"Aub"}],
"tt":[{"x":164,"y":30,"t":"Ago2"},{"x":505,"y":30,"t":"Piwi/Aub"}]
},
"layer":[
{"data":{"name":"fr"},"mark":{"type":"rect","filled":false,"stroke":"#000","strokeWidth":2},
 "encoding":{"x":{"field":"x","type":"quantitative","scale":{"domain":[0,674],"nice":false},"axis":null},"x2":{"field":"x2"},"y":{"field":"y","type":"quantitative","scale":{"domain":[0,1039],"nice":false,"reverse":true},"axis":null},"y2":{"field":"y2"}}},
{"data":{"name":"h"},"mark":{"type":"rule","strokeWidth":2,"strokeCap":"square"},
 "encoding":{"x":{"field":"a","type":"quantitative","scale":{"domain":[0,674],"nice":false},"axis":null},"x2":{"field":"b"},"y":{"field":"y","type":"quantitative","scale":{"domain":[0,1039],"nice":false,"reverse":true},"axis":null},
 "color":{"field":"c","type":"nominal","scale":{"domain":["A","P"],"range":["#b34a5e","#5ca947"]},"legend":null}}},
{"data":{"name":"v"},"mark":{"type":"rule","strokeWidth":2,"strokeCap":"square"},
 "encoding":{"x":{"field":"x","type":"quantitative","axis":null},"y":{"field":"a","type":"quantitative","axis":null},"y2":{"field":"b"},
 "color":{"field":"c","type":"nominal","legend":null}}},
{"data":{"name":"bh"},"mark":{"type":"rule","strokeWidth":1.4,"color":"#111"},
 "encoding":{"x":{"field":"a","type":"quantitative","axis":null},"x2":{"field":"b"},"y":{"field":"y","type":"quantitative","axis":null}}},
{"data":{"name":"bv"},"mark":{"type":"rule","strokeWidth":1.4,"color":"#111"},
 "encoding":{"x":{"field":"x","type":"quantitative","axis":null},"y":{"field":"a","type":"quantitative","axis":null},"y2":{"field":"b"}}},
{"data":{"name":"dg"},"mark":{"type":"rule","strokeWidth":2.2,"color":"#111","strokeCap":"round"},
 "encoding":{"x":{"field":"x","type":"quantitative","axis":null},"x2":{"field":"x2"},"y":{"field":"y","type":"quantitative","axis":null},"y2":{"field":"y2"}}},
{"data":{"name":"dm"},"mark":{"type":"point","shape":"diamond","filled":true,"fill":"#f3e140","stroke":"#000","strokeWidth":1.2,"size":95,"opacity":1},
 "encoding":{"x":{"field":"x","type":"quantitative","axis":null},"y":{"field":"y","type":"quantitative","axis":null}}},
{"data":{"name":"bs"},"mark":{"type":"text","fontSize":7,"align":"left","baseline":"middle"},
 "encoding":{"x":{"field":"x","type":"quantitative","axis":null},"y":{"field":"y","type":"quantitative","axis":null},"text":{"field":"t"},"color":{"field":"c","type":"nominal","legend":null}}},
{"data":{"name":"it"},"mark":{"type":"text","fontSize":14,"fontStyle":"italic","align":"left","baseline":"middle","color":"#111"},
 "encoding":{"x":{"field":"x","type":"quantitative","axis":null},"y":{"field":"y","type":"quantitative","axis":null},"text":{"field":"t"}}},
{"data":{"name":"nl"},"mark":{"type":"text","fontSize":14,"align":"left","baseline":"middle","color":"#111"},
 "encoding":{"x":{"field":"x","type":"quantitative","axis":null},"y":{"field":"y","type":"quantitative","axis":null},"text":{"field":"t"}}},
{"data":{"name":"c16"},"mark":{"type":"text","fontSize":16,"align":"center","baseline":"middle","color":"#111"},
 "encoding":{"x":{"field":"x","type":"quantitative","axis":null},"y":{"field":"y","type":"quantitative","axis":null},"text":{"field":"t"}}},
{"data":{"name":"c14"},"mark":{"type":"text","fontSize":14,"align":"center","baseline":"middle","color":"#111"},
 "encoding":{"x":{"field":"x","type":"quantitative","axis":null},"y":{"field":"y","type":"quantitative","axis":null},"text":{"field":"t"}}},
{"data":{"name":"r14"},"mark":{"type":"text","fontSize":14,"angle":90,"align":"center","baseline":"middle","color":"#111"},
 "encoding":{"x":{"field":"x","type":"quantitative","axis":null},"y":{"field":"y","type":"quantitative","axis":null},"text":{"field":"t"}}},
{"data":{"name":"r18"},"mark":{"type":"text","fontSize":18,"angle":90,"align":"center","baseline":"middle","color":"#111"},
 "encoding":{"x":{"field":"x","type":"quantitative","axis":null},"y":{"field":"y","type":"quantitative","axis":null},"text":{"field":"t"}}},
{"data":{"name":"tt"},"mark":{"type":"text","fontSize":20,"fontWeight":"bold","align":"center","baseline":"alphabetic","color":"#111"},
 "encoding":{"x":{"field":"x","type":"quantitative","axis":null},"y":{"field":"y","type":"quantitative","axis":null},"text":{"field":"t"}}}
]
}
